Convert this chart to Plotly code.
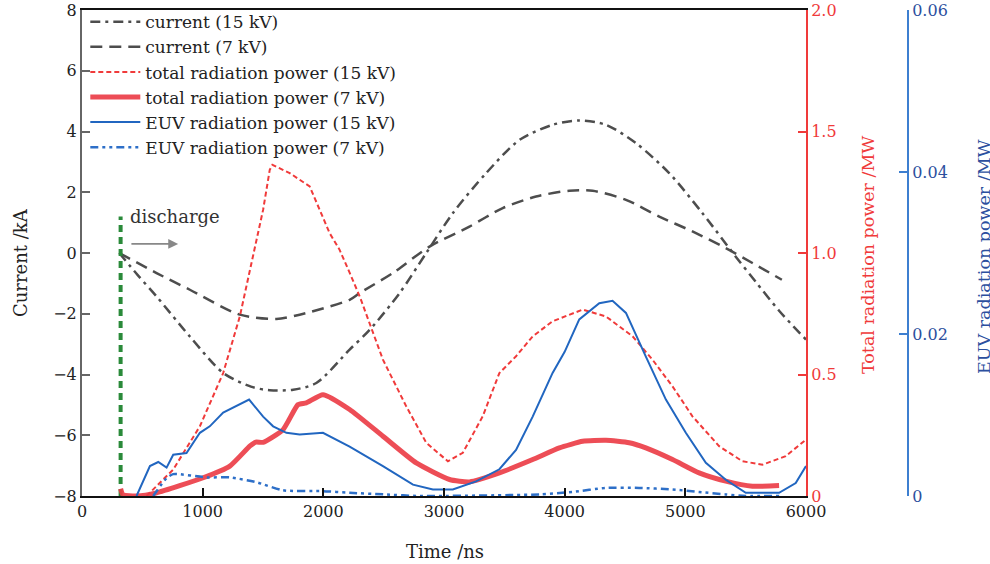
import plotly.graph_objects as go

# ---------------- data ----------------
t_cur15 = [309, 460, 618, 894, 1170, 1400, 1556, 1750, 1942, 2218, 2384, 2632, 2853, 3073, 3349, 3625,
           3900, 4121, 4342, 4590, 4866, 5142, 5418, 5584, 5777, 6000]
cur15 = [0, -0.72, -1.43, -2.75, -3.95, -4.4, -4.52, -4.5, -4.28, -3.18, -2.53, -1.32, 0.0, 1.31, 2.63, 3.72,
         4.22, 4.36, 4.22, 3.62, 2.63, 1.31, -0.12, -0.95, -1.9, -2.85]

t_cur7 = [309, 618, 894, 1308, 1611, 1804, 2218, 2301, 2576, 2880, 3211, 3487, 3763, 4039, 4232, 4508,
          4784, 5059, 5335, 5556, 5800]
cur7 = [0, -0.66, -1.21, -2.03, -2.17, -2.03, -1.54, -1.32, -0.66, 0.21, 0.87, 1.48, 1.86, 2.05, 2.05, 1.75,
        1.2, 0.71, 0.16, -0.33, -0.88]

t_tot15 = [535, 756, 977, 1170, 1308, 1501, 1556, 1578, 1721, 1887, 2052, 2135, 2218, 2301, 2494, 2687,
           2853, 3032, 3156, 3321, 3459, 3597, 3735, 3900, 4149, 4342, 4563, 4728, 4894, 5059, 5280,
           5473, 5639, 5832, 6000]
tot15 = [0, 0.109, 0.287, 0.506, 0.739, 1.178, 1.342, 1.363, 1.329, 1.274, 1.082, 1.013, 0.919, 0.822,
         0.561, 0.369, 0.219, 0.143, 0.178, 0.328, 0.506, 0.575, 0.657, 0.719, 0.767, 0.739, 0.657, 0.561,
         0.451, 0.328, 0.205, 0.143, 0.129, 0.164, 0.232]

t_tot7 = [320, 340, 450, 618, 1004, 1225, 1390, 1440, 1501, 1666, 1790, 1859, 1997, 2218, 2494, 2770,
          3046, 3211, 3459, 3735, 3956, 4149, 4342, 4535, 4673, 4894, 5114, 5335, 5556, 5777]
tot7 = [0.03, 0.005, 0.0, 0.013, 0.075, 0.123, 0.205, 0.222, 0.221, 0.273, 0.376, 0.383, 0.417, 0.356,
        0.246, 0.136, 0.068, 0.058, 0.095, 0.15, 0.198, 0.225, 0.229, 0.219, 0.198, 0.15, 0.095, 0.061,
        0.04, 0.043]

t_euv15 = [452, 563, 632, 701, 756, 866, 977, 1059, 1170, 1280, 1385, 1501, 1584, 1694, 1804, 1997,
           2218, 2494, 2743, 2908, 3073, 3266, 3459, 3597, 3735, 3900, 4000, 4121, 4287, 4397, 4508,
           4673, 4839, 5004, 5170, 5335, 5501, 5777, 5915, 6000]
euv15 = [0, 0.0037, 0.0042, 0.0035, 0.0051, 0.0053, 0.0078, 0.0086, 0.0103, 0.0111, 0.0119, 0.0098,
         0.0086, 0.0078, 0.0076, 0.0078, 0.0061, 0.0037, 0.0014, 0.0008, 0.0008, 0.0018, 0.0033, 0.0057,
         0.0098, 0.0152, 0.0178, 0.0218, 0.0238, 0.0241, 0.0226, 0.0172, 0.0119, 0.0078, 0.0041, 0.002,
         0.0004, 0.0004, 0.0016, 0.0037]

t_euv7 = [590, 700, 756, 1032, 1225, 1446, 1666, 1997, 2218, 2500, 2800, 3790, 4066, 4342, 4618, 4894,
          5114, 5335, 5500, 5800]
euv7 = [0, 0.0022, 0.0027, 0.0023, 0.0023, 0.0017, 0.0007, 0.0006, 0.0004, 0.0002, 0.0, 0.0002, 0.0005,
        0.001, 0.001, 0.0008, 0.0005, 0.0002, 0.0, 0.0]

t_discharge = [320, 320]
y_discharge = [-8, 1.2]

x_ticks = [0, 1000, 2000, 3000, 4000, 5000, 6000]
y_ticks = [-8, -6, -4, -2, 0, 2, 4, 6, 8]
y2_ticks = [0, 0.5, 1.0, 1.5, 2.0]
y2_text = ["0", "0.5", "1.0", "1.5", "2.0"]
y3_ticks = [0, 0.02, 0.04, 0.06]
y3_text = ["0", "0.02", "0.04", "0.06"]

# ---------------- styling ----------------
FONT = "DejaVu Serif"
GRAY = "#4d4d4d"
RED = "#f03a3a"
RED_THICK = "rgba(236,62,72,0.92)"
BLUE = "#2166c0"
BLUE_AX = "#3d7fd0"
BLUE_TXT = "#2c4f9e"
GREEN = "#2a8a3a"

fig = go.Figure()

fig.add_trace(go.Scatter(x=t_cur15, y=cur15, mode="lines", name="current (15 kV)",
                         line=dict(color=GRAY, width=2.5, dash="10px,5px,3px,5px", shape="spline", smoothing=0.8),
                         yaxis="y"))
fig.add_trace(go.Scatter(x=t_cur7, y=cur7, mode="lines", name="current (7 kV)",
                         line=dict(color=GRAY, width=2.5, dash="12px,7px", shape="spline", smoothing=0.8),
                         yaxis="y"))
fig.add_trace(go.Scatter(x=t_tot15, y=tot15, mode="lines", name="total radiation power (15 kV)",
                         line=dict(color=RED, width=2, dash="5px,3px"), yaxis="y2"))
fig.add_trace(go.Scatter(x=t_tot7, y=tot7, mode="lines", name="total radiation power (7 kV)",
                         line=dict(color=RED_THICK, width=5, shape="spline", smoothing=0.5), yaxis="y2"))
fig.add_trace(go.Scatter(x=t_euv15, y=euv15, mode="lines", name="EUV radiation power (15 kV)",
                         line=dict(color=BLUE, width=2), yaxis="y3"))
fig.add_trace(go.Scatter(x=t_euv7, y=euv7, mode="lines", name="EUV radiation power (7 kV)",
                         line=dict(color="#2d6fc8", width=2.5, dash="8px,4px,3px,4px,3px,4px",
                                   shape="spline", smoothing=0.6), yaxis="y3"))
fig.add_trace(go.Scatter(x=t_discharge, y=y_discharge, mode="lines", showlegend=False,
                         line=dict(color=GREEN, width=4, dash="7px,5px"), yaxis="y", hoverinfo="skip"))

XEND = 0.8765

fig.update_layout(
    width=990, height=564,
    margin=dict(l=82, r=82, t=10, b=68, autoexpand=False),
    paper_bgcolor="white", plot_bgcolor="white",
    font=dict(family=FONT, size=16, color="#222"),
    showlegend=True,
    legend=dict(x=0.004, y=1.012, xanchor="left", yanchor="top", bgcolor="rgba(0,0,0,0)",
                font=dict(family=FONT, size=17, color="#222"), tracegroupgap=0, itemwidth=50),
    xaxis=dict(range=[0, 6000], domain=[0, XEND], tickvals=x_ticks, showgrid=False, zeroline=False,
               showline=True, linecolor="#111", linewidth=2, mirror=True, automargin=False,
               ticks="inside", ticklen=8, tickwidth=2, tickcolor="#111",
               tickfont=dict(family=FONT, size=16, color="#222")),
    yaxis=dict(range=[-8, 8], tickvals=y_ticks, showgrid=False, zeroline=False, automargin=False,
               showline=True, linecolor="#666", linewidth=2,
               ticks="inside", ticklen=8, tickwidth=2, tickcolor="#666",
               tickfont=dict(family=FONT, size=16, color="#222")),
    yaxis2=dict(range=[0, 2], overlaying="y", side="right", anchor="x", automargin=False,
                tickvals=y2_ticks, ticktext=y2_text, showgrid=False, zeroline=False,
                showline=True, linecolor=RED, linewidth=2,
                ticks="inside", ticklen=8, tickwidth=2, tickcolor=RED,
                tickfont=dict(family=FONT, size=16, color=RED)),
    yaxis3=dict(range=[0, 0.06], overlaying="y", side="right", anchor="free", position=1, automargin=False,
                tickvals=y3_ticks, ticktext=y3_text, showgrid=False, zeroline=False,
                showline=True, linecolor=BLUE_AX, linewidth=2,
                ticks="inside", ticklen=8, tickwidth=2, tickcolor=BLUE_AX,
                tickfont=dict(family=FONT, size=16, color=BLUE_TXT)),
)

# axis titles as annotations
fig.add_annotation(text="Time /ns", xref="paper", yref="paper", x=(445 - 82) / 826, y=-(551 - 496) / 486,
                   showarrow=False, font=dict(family=FONT, size=18, color="#222"),
                   xanchor="center", yanchor="middle")
fig.add_annotation(text="Current /kA", xref="paper", yref="paper", x=(20 - 82) / 826, y=(496 - 262) / 486,
                   showarrow=False, textangle=-90, font=dict(family=FONT, size=18, color="#222"),
                   xanchor="center", yanchor="middle")
fig.add_annotation(text="Total radiation power /MW", xref="paper", yref="paper", x=(868 - 82) / 826,
                   y=(496 - 255) / 486, showarrow=False, textangle=-90,
                   font=dict(family=FONT, size=17.5, color=RED), xanchor="center", yanchor="middle")
fig.add_annotation(text="EUV radiation power /MW", xref="paper", yref="paper", x=(984 - 82) / 826,
                   y=(496 - 257) / 486, showarrow=False, textangle=-90,
                   font=dict(family=FONT, size=17.5, color=BLUE_TXT), xanchor="center", yanchor="middle")

# discharge label and arrow
fig.add_annotation(text="discharge", x=771, y=1.19, xref="x", yref="y", showarrow=False,
                   font=dict(family=FONT, size=18, color="#333"), xanchor="center", yanchor="middle")
fig.add_annotation(text="", x=797, y=0.30, ax=397, ay=0.30, xref="x", yref="y", axref="x", ayref="y",
                   showarrow=True, arrowhead=2, arrowsize=1.1, arrowwidth=1.8, arrowcolor="#888", standoff=0)

fig.write_html("out.html")
